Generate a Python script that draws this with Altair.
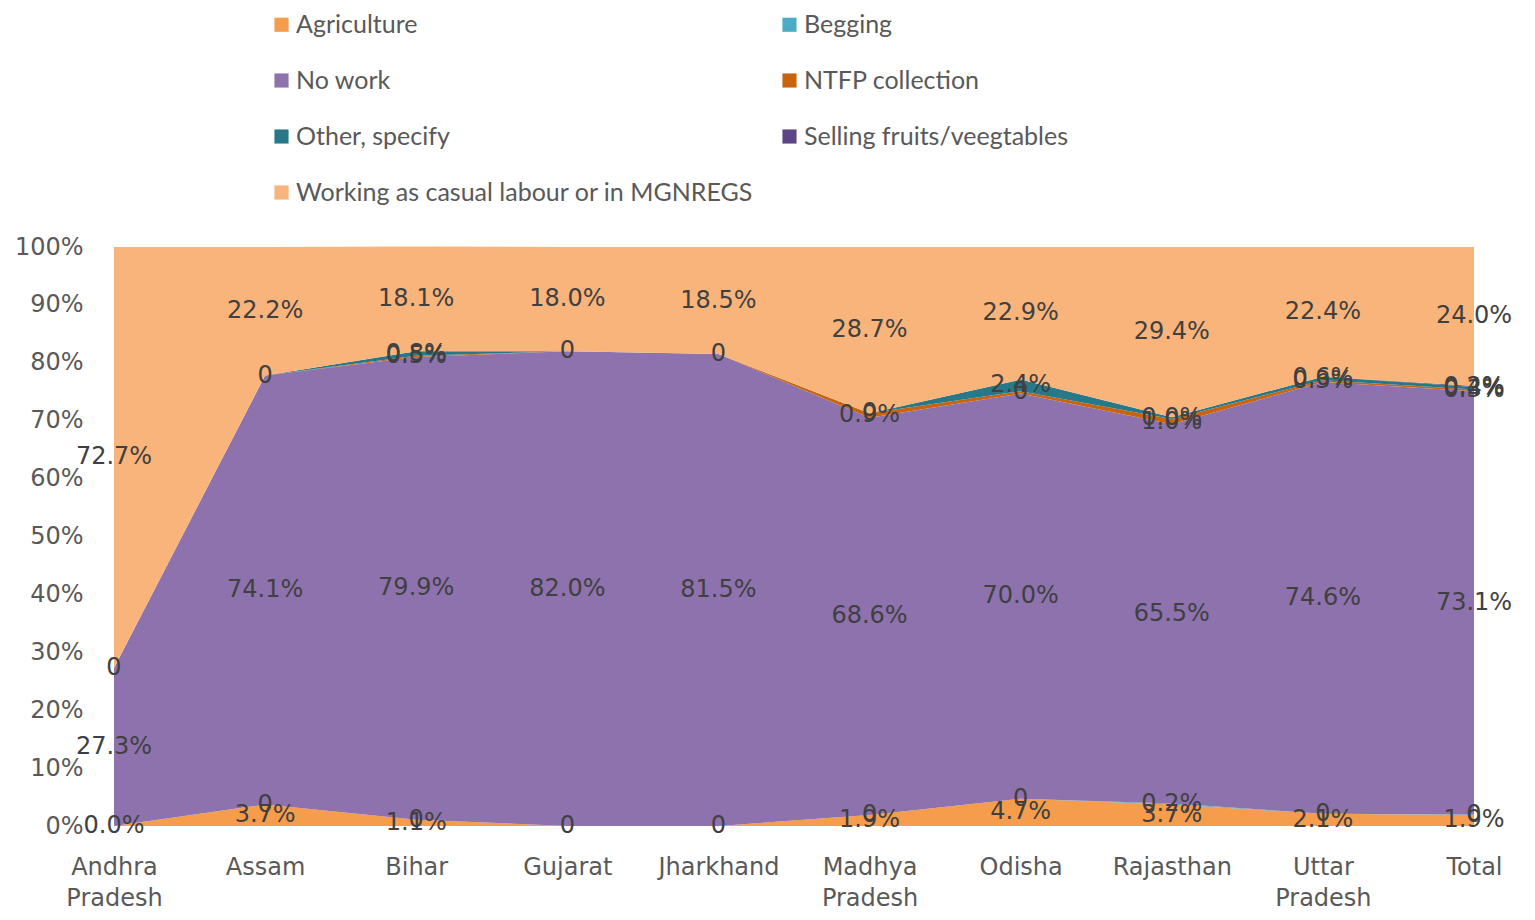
import altair as alt
import pandas as pd

states = ["Andhra Pradesh", "Assam", "Bihar", "Gujarat", "Jharkhand",
          "Madhya Pradesh", "Odisha", "Rajasthan", "Uttar Pradesh", "Total"]

series = ["Agriculture", "Begging", "No work", "NTFP collection",
          "Other, specify", "Selling fruits/veegtables",
          "Working as casual labour or in MGNREGS"]

colors = ["#F59D4C", "#4BACC6", "#8E72AE", "#C8640F", "#27798A", "#5C4586", "#F9B47C"]

# values in percent, per series (bottom to top of stack)
agriculture = [0.0, 3.7, 1.1, 0.0, 0.0, 1.9, 4.7, 3.7, 2.1, 1.9]
begging     = [0.0, 0.0, 0.0, 0.0, 0.0, 0.0, 0.0, 0.2, 0.0, 0.1]
no_work     = [27.3, 74.1, 79.9, 82.0, 81.5, 68.6, 70.0, 65.5, 74.6, 73.1]
ntfp        = [0.0, 0.0, 0.2, 0.0, 0.0, 0.8, 0.4, 0.9, 0.3, 0.3]
other       = [0.0, 0.0, 0.8, 0.0, 0.0, 0.0, 2.0, 0.3, 0.6, 0.4]
selling     = [0.0, 0.0, 0.0, 0.0, 0.0, 0.0, 0.0, 0.0, 0.0, 0.2]
casual      = [72.7, 22.2, 18.1, 18.0, 18.5, 28.7, 22.9, 29.4, 22.4, 24.0]

# data labels as shown in the chart ("" = no label)
lbl_agriculture = ["0.0%", "3.7%", "1.1%", "0", "0", "1.9%", "4.7%", "3.7%", "2.1%", "1.9%"]
lbl_begging     = ["", "0", "0", "", "", "0", "0", "0.2%", "0", "0"]
lbl_no_work     = ["27.3%", "74.1%", "79.9%", "82.0%", "81.5%", "68.6%", "70.0%", "65.5%", "74.6%", "73.1%"]
lbl_ntfp        = ["0", "0", "0.5%", "0", "0", "0.9%", "0", "1.0%", "0.3%", "0.3%"]
lbl_other       = ["", "", "0.8%", "", "", "0", "2.4%", "0.0%", "0.6%", "0.4%"]
lbl_selling     = ["", "", "", "", "", "", "", "", "", "0.2%"]
lbl_casual      = ["72.7%", "22.2%", "18.1%", "18.0%", "18.5%", "28.7%", "22.9%", "29.4%", "22.4%", "24.0%"]

vals = [agriculture, begging, no_work, ntfp, other, selling, casual]
lbls = [lbl_agriculture, lbl_begging, lbl_no_work, lbl_ntfp, lbl_other, lbl_selling, lbl_casual]

rows = []
for si, (s, v, l) in enumerate(zip(series, vals, lbls)):
    for st, val, lab in zip(states, v, l):
        rows.append({"state": st, "series": s, "order": si, "value": val, "label": lab})
df = pd.DataFrame(rows)

AXFONT = "DejaVu Sans"
LGFONT = "Lato"

base = alt.Chart(df).transform_calculate(
    frac="datum.value / 100"
).transform_stack(
    stack="frac", groupby=["state"], as_=["y0", "y1"],
    sort=[alt.SortField("order", order="ascending")]
).transform_calculate(
    ymid="(datum.y0 + datum.y1) / 2"
)

xenc = alt.X("state:N", sort=states, scale=alt.Scale(type="point", padding=0),
             axis=alt.Axis(title=None, labelAngle=0, domain=False, ticks=False,
                           labelFontSize=24, labelColor="#595959", labelFont=AXFONT,
                           labelPadding=29, labelLineHeight=31,
                           labelExpr="split(datum.label, ' ')"))

area = base.mark_area(interpolate="linear", opacity=1).encode(
    x=xenc,
    y=alt.Y("y0:Q", scale=alt.Scale(domain=[0, 1], nice=False),
            axis=alt.Axis(title=None, format="%", values=[i / 10 for i in range(11)],
                          domain=False, ticks=False, tickSize=0, grid=False,
                          labelFontSize=24, labelColor="#595959", labelFont=AXFONT,
                          labelPadding=31)),
    y2="y1:Q",
    color=alt.Color("series:N", sort=series,
                    scale=alt.Scale(domain=series, range=colors),
                    legend=alt.Legend(title=None, orient="none", legendX=155, legendY=-235,
                                      columns=2, direction="horizontal",
                                      symbolType="square", symbolSize=200,
                                      symbolStrokeWidth=0,
                                      labelFontSize=25, labelColor="#595959", labelFont=LGFONT,
                                      rowPadding=30, columnPadding=23, labelOffset=2,
                                      labelLimit=600)),
    order=alt.Order("order:Q"),
)

text = base.transform_filter("datum.label != ''").mark_text(
    fontSize=24, color="#404040", font=AXFONT, baseline="middle", align="center"
).encode(
    x=alt.X("state:N", sort=states),
    y=alt.Y("ymid:Q"),
    text="label:N",
)

chart = alt.layer(area, text).properties(
    width=1360, height=579,
    autosize=alt.AutoSizeParams(type="none"),
    padding={"left": 106, "top": 239, "right": 44, "bottom": 86},
).configure_view(stroke=None)

chart.save("out.html", embed_options={"renderer": "svg", "actions": False})
